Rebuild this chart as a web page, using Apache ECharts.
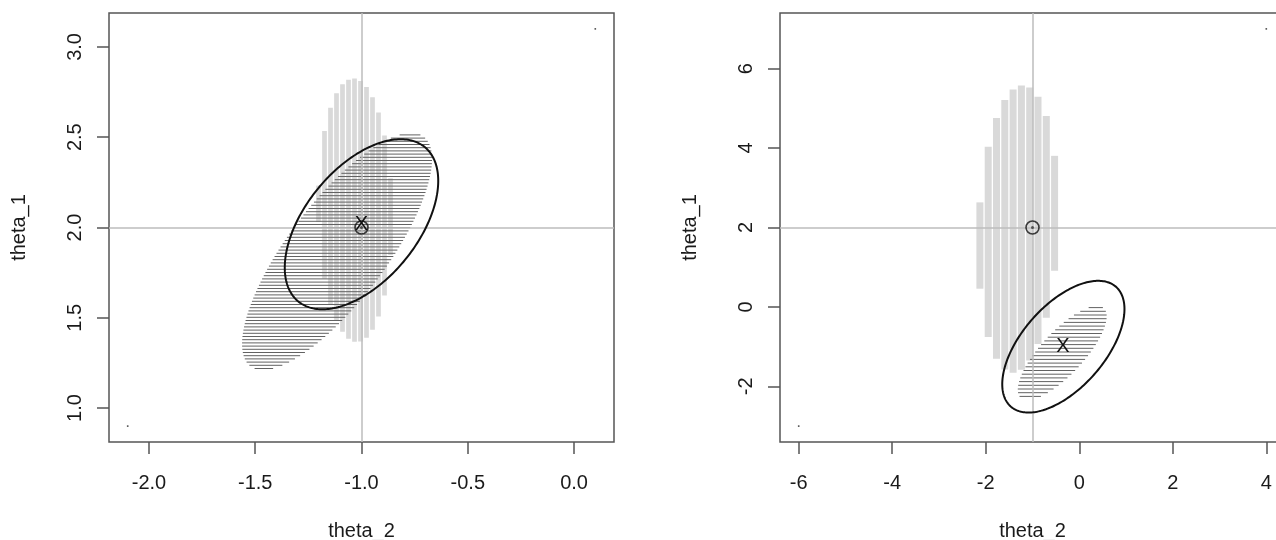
<!DOCTYPE html>
<html>
<head>
<meta charset="utf-8">
<script src="https://cdn.jsdelivr.net/npm/echarts@6/dist/echarts.min.js"></script>
<style>
  html, body { margin: 0; padding: 0; background: #ffffff; }
  #chart { width: 1276px; height: 540px; }
</style>
</head>
<body>
<div id="chart"></div>
<script>
// ---- Data -------------------------------------------------------------
// Plotted extremes of each panel (the small corner dots)
const leftCorners = [[-2.1, 0.9], [0.1, 3.1]];
const rightCorners = [[-6, -3], [4, 7]];

// Tick positions
const leftTicksX = [-2.0, -1.5, -1.0, -0.5, 0.0];
const leftTicksY = [1.0, 1.5, 2.0, 2.5, 3.0];
const rightTicksX = [-6, -4, -2, 0, 2, 4];
const rightTicksY = [-2, 0, 2, 4, 6];

// Reference values of (theta_2, theta_1)
const refTheta2 = -1;
const refTheta1 = 2;

// Ellipses: [centre theta_2, centre theta_1, half-width theta_2, half-height theta_1, correlation]
const leftLightEllipse  = [-1.03, 2.095, 0.174, 0.73, -0.05];
const leftDarkEllipse   = [-1.115, 1.867, 0.447, 0.656, 0.78];
const leftOutline       = [-1.0, 2.018, 0.361, 0.471, 0.51];
const rightLightEllipse = [-1.31, 1.96, 0.855, 3.62, 0.12];
const rightDarkEllipse  = [-0.364, -1.16, 0.951, 1.183, 0.78];
const rightOutline      = [-0.34, -1.0, 1.307, 1.658, 0.57];

// Estimates marked with "X"
const leftEstimate = [-1.0, 2.018];
const rightEstimate = [-0.35, -1.0];

// ---- Helpers ----------------------------------------------------------
const FONT = '"Liberation Sans", Arial, Helvetica, sans-serif';
const INK = '#1a1a1a';
const FRAME = '#555555';

// Axis limits padded by 4% of the range on each side
function padded(lo, hi) {
  const d = (hi - lo) * 0.04;
  return [lo - d, hi + d];
}

// Ellipse outline in pixel space
function ellipsePixels(api, n) {
  const cx = api.value(0), cy = api.value(1), a = api.value(2), b = api.value(3), r = api.value(4);
  const s = Math.sqrt(1 - r * r);
  const pts = [];
  for (let i = 0; i < n; i++) {
    const t = 2 * Math.PI * i / n;
    pts.push(api.coord([cx + a * Math.cos(t), cy + b * (r * Math.cos(t) + s * Math.sin(t))]));
  }
  return pts;
}

// Scan-line hatching of a closed polygon
function hatchSegments(pts, vertical, period, phase) {
  const A = vertical ? 0 : 1, B = 1 - A;
  let lo = Infinity, hi = -Infinity;
  pts.forEach(p => { lo = Math.min(lo, p[A]); hi = Math.max(hi, p[A]); });
  const segs = [];
  for (let k = Math.ceil((lo - phase) / period); phase + k * period <= hi; k++) {
    const c = phase + k * period;
    const cuts = [];
    for (let i = 0; i < pts.length; i++) {
      const p = pts[i], q = pts[(i + 1) % pts.length];
      if ((p[A] <= c && q[A] > c) || (q[A] <= c && p[A] > c)) {
        const u = (c - p[A]) / (q[A] - p[A]);
        cuts.push(p[B] + u * (q[B] - p[B]));
      }
    }
    cuts.sort((m, n) => m - n);
    for (let j = 0; j + 1 < cuts.length; j += 2) {
      segs.push(vertical ? [c, cuts[j], c, cuts[j + 1]] : [cuts[j], c, cuts[j + 1], c]);
    }
  }
  return segs;
}

function hatchSeries(gi, ellipse, vertical, period, width, color, z) {
  return {
    type: 'custom', xAxisIndex: gi, yAxisIndex: gi, z: z, silent: true,
    data: [ellipse], encode: { x: 0, y: 1 },
    renderItem: function (params, api) {
      const pts = ellipsePixels(api, 240);
      const segs = hatchSegments(pts, vertical, period, 0.5);
      return {
        type: 'group',
        children: segs.map(s => ({
          type: 'line',
          shape: { x1: s[0], y1: s[1], x2: s[2], y2: s[3] },
          style: { stroke: color, lineWidth: width }
        }))
      };
    }
  };
}

function outlineSeries(gi, ellipse) {
  return {
    type: 'custom', xAxisIndex: gi, yAxisIndex: gi, z: 6, silent: true,
    data: [ellipse], encode: { x: 0, y: 1 },
    renderItem: function (params, api) {
      return {
        type: 'polygon',
        shape: { points: ellipsePixels(api, 240) },
        style: { fill: 'none', stroke: '#111111', lineWidth: 2 }
      };
    }
  };
}

function estimateSeries(gi, pt) {
  return {
    type: 'custom', xAxisIndex: gi, yAxisIndex: gi, z: 8, silent: true,
    data: [pt], encode: { x: 0, y: 1 },
    renderItem: function (params, api) {
      const c = api.coord([api.value(0), api.value(1)]);
      return {
        type: 'text',
        style: {
          text: 'X', x: c[0], y: c[1], align: 'center', verticalAlign: 'middle',
          font: '20px ' + FONT, fill: '#111111'
        }
      };
    }
  };
}

function cornerSeries(gi, pts) {
  return {
    type: 'scatter', xAxisIndex: gi, yAxisIndex: gi, z: 5, silent: true,
    symbol: 'rect', symbolSize: 1.6, itemStyle: { color: '#222222' },
    data: pts,
    markLine: {
      silent: true, symbol: 'none', animation: false,
      label: { show: false },
      lineStyle: { color: '#bdbdbd', width: 1.5, type: 'solid' },
      data: [{ xAxis: refTheta2 }, { yAxis: refTheta1 }]
    }
  };
}

function referencePointSeries(gi) {
  return [
    {
      type: 'scatter', xAxisIndex: gi, yAxisIndex: gi, z: 7, silent: true,
      symbol: 'circle', symbolSize: 13,
      itemStyle: { color: 'rgba(0,0,0,0)', borderColor: '#111111', borderWidth: 1.6 },
      data: [[refTheta2, refTheta1]]
    },
    {
      type: 'scatter', xAxisIndex: gi, yAxisIndex: gi, z: 7, silent: true,
      symbol: 'circle', symbolSize: 3, itemStyle: { color: '#333333' },
      data: [[refTheta2, refTheta1]]
    }
  ];
}

function xAxisOf(gi, lim, ticks, fmt) {
  return {
    type: 'value', gridIndex: gi, min: lim[0], max: lim[1], position: 'bottom',
    axisLine: { show: false, onZero: false }, splitLine: { show: false },
    axisTick: { show: true, length: 12, customValues: ticks, lineStyle: { color: FRAME, width: 1.5 } },
    axisLabel: { customValues: ticks, formatter: fmt, margin: 31, color: INK, fontSize: 20, fontFamily: FONT },
    name: 'theta_2', nameLocation: 'middle', nameGap: 79, nameMoveOverlap: false,
    nameTextStyle: { color: INK, fontSize: 20, fontFamily: FONT }
  };
}

function yAxisOf(gi, lim, ticks, fmt) {
  return {
    type: 'value', gridIndex: gi, min: lim[0], max: lim[1], position: 'left',
    axisLine: { show: false, onZero: false }, splitLine: { show: false },
    axisTick: { show: true, length: 12, customValues: ticks, lineStyle: { color: FRAME, width: 1.5 } },
    axisLabel: { customValues: ticks, formatter: fmt, rotate: 90, margin: 24, color: INK, fontSize: 20, fontFamily: FONT },
    name: 'theta_1', nameLocation: 'middle', nameRotate: 90, nameGap: 80, nameMoveOverlap: false,
    nameTextStyle: { color: INK, fontSize: 20, fontFamily: FONT }
  };
}

// ---- Chart ------------------------------------------------------------
const leftLimX = padded(leftCorners[0][0], leftCorners[1][0]);
const leftLimY = padded(leftCorners[0][1], leftCorners[1][1]);
const rightLimX = padded(rightCorners[0][0], rightCorners[1][0]);
const rightLimY = padded(rightCorners[0][1], rightCorners[1][1]);

const oneDecimal = v => v.toFixed(1);
const plain = v => String(v);

const chart = echarts.init(document.getElementById('chart'), null, { renderer: 'canvas' });
chart.setOption({
  animation: false,
  backgroundColor: '#ffffff',
  grid: [
    { left: 109, top: 13, width: 505, height: 429, show: true, borderColor: FRAME, borderWidth: 1.5,
      backgroundColor: 'transparent', outerBoundsMode: 'none', containLabel: false },
    { left: 780, top: 13, width: 505, height: 429, show: true, borderColor: FRAME, borderWidth: 1.5,
      backgroundColor: 'transparent', outerBoundsMode: 'none', containLabel: false }
  ],
  xAxis: [
    xAxisOf(0, leftLimX, leftTicksX, oneDecimal),
    xAxisOf(1, rightLimX, rightTicksX, plain)
  ],
  yAxis: [
    yAxisOf(0, leftLimY, leftTicksY, oneDecimal),
    yAxisOf(1, rightLimY, rightTicksY, plain)
  ],
  series: [
    // left panel
    hatchSeries(0, leftLightEllipse, true, 6, 4.7, '#d9d9d9', 2),
    hatchSeries(0, leftDarkEllipse, false, 3.2, 1, '#626262', 3),
    cornerSeries(0, leftCorners),
    outlineSeries(0, leftOutline),
    ...referencePointSeries(0),
    estimateSeries(0, leftEstimate),
    // right panel
    hatchSeries(1, rightLightEllipse, true, 8.3, 7, '#d9d9d9', 2),
    hatchSeries(1, rightDarkEllipse, false, 3.7, 1, '#626262', 3),
    cornerSeries(1, rightCorners),
    outlineSeries(1, rightOutline),
    ...referencePointSeries(1),
    estimateSeries(1, rightEstimate)
  ]
});
</script>
</body>
</html>
